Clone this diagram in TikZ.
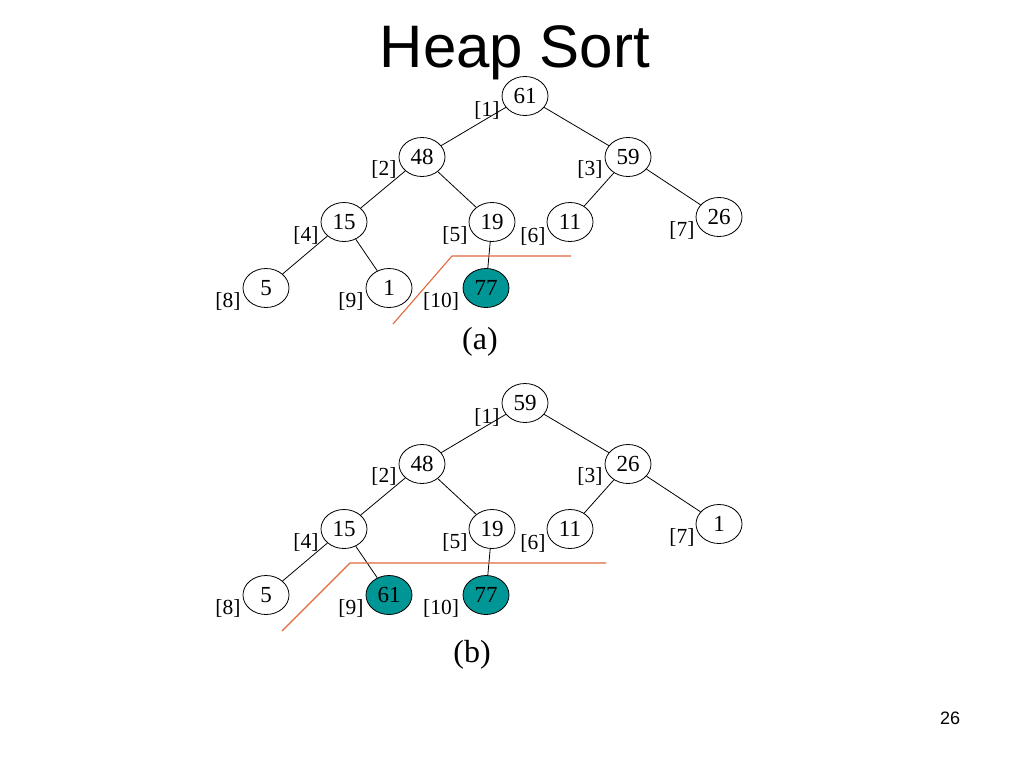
\documentclass[tikz,border=0pt]{standalone}
\usepackage{fontspec}
\setmainfont{Liberation Serif}
\newfontfamily\arialfont{Liberation Sans}
\usetikzlibrary{shapes.geometric}
\definecolor{tealfill}{RGB}{0,150,150}
\definecolor{cutline}{RGB}{226,104,60}
\tikzset{
  hnode/.style={ellipse, draw=black, line width=0.8pt, fill=white, minimum width=46pt, minimum height=39pt, inner sep=0pt, font=\fontsize{23}{25}\selectfont},
  donenode/.style={hnode, fill=tealfill},
  idxlabel/.style={anchor=base, inner sep=0pt, font=\fontsize{21.5}{24}\selectfont},
  treeline/.style={draw=black, line width=0.8pt},
  cutmark/.style={draw=cutline, line width=1.1pt},
  captext/.style={inner sep=0pt, font=\fontsize{32}{36}\selectfont}
}
\begin{document}
\begin{tikzpicture}[x=1pt,y=-1pt]
\useasboundingbox (0,0) rectangle (1024,768);
\node[anchor=base, inner sep=0pt, font=\arialfont\fontsize{60}{66}\selectfont] (title) at (515,67) {Heap Sort};
\node[anchor=center, inner sep=0pt, font=\arialfont\fontsize{18}{20}\selectfont] (pagenum) at (950,718) {26};

% ---------- tree (a) ----------
\node[hnode] (a1) at (525,96) {61};
\node[hnode] (a2) at (422,157) {48};
\node[hnode] (a3) at (628,157) {59};
\node[hnode] (a4) at (344,222) {15};
\node[hnode] (a5) at (492,222) {19};
\node[hnode] (a6) at (570,222) {11};
\node[hnode] (a7) at (719,217) {26};
\node[hnode] (a8) at (266,288) {5};
\node[hnode] (a9) at (389,288) {1};
\node[donenode] (a10) at (486,288) {77};
\draw[treeline] (a1) -- (a2);
\draw[treeline] (a1) -- (a3);
\draw[treeline] (a2) -- (a4);
\draw[treeline] (a2) -- (a5);
\draw[treeline] (a3) -- (a6);
\draw[treeline] (a3) -- (a7);
\draw[treeline] (a4) -- (a8);
\draw[treeline] (a4) -- (a9);
\draw[treeline] (a5) -- (a10);
\node[idxlabel] (ai1) at (487,116) {[1]};
\node[idxlabel] (ai2) at (384,175) {[2]};
\node[idxlabel] (ai3) at (590,175.5) {[3]};
\node[idxlabel] (ai4) at (306,241.5) {[4]};
\node[idxlabel] (ai5) at (455,241.5) {[5]};
\node[idxlabel] (ai6) at (533,242) {[6]};
\node[idxlabel] (ai7) at (682,236.5) {[7]};
\node[idxlabel] (ai8) at (228,307.5) {[8]};
\node[idxlabel] (ai9) at (351,307.5) {[9]};
\node[idxlabel] (ai10) at (441,307.5) {[10]};
\coordinate (ca1) at (393,324);
\coordinate (ca2) at (452,256);
\coordinate (ca3) at (571,256);
\draw[cutmark] (ca1) -- (ca2) -- (ca3);
\node[captext] (capa) at (480,342) {(a)};

% ---------- tree (b) ----------
\node[hnode] (b1) at (525,403) {59};
\node[hnode] (b2) at (422,464) {48};
\node[hnode] (b3) at (628,464) {26};
\node[hnode] (b4) at (344,529) {15};
\node[hnode] (b5) at (492,529) {19};
\node[hnode] (b6) at (570,529) {11};
\node[hnode] (b7) at (719,524) {1};
\node[hnode] (b8) at (266,595) {5};
\node[donenode] (b9) at (389,595) {61};
\node[donenode] (b10) at (486,595) {77};
\draw[treeline] (b1) -- (b2);
\draw[treeline] (b1) -- (b3);
\draw[treeline] (b2) -- (b4);
\draw[treeline] (b2) -- (b5);
\draw[treeline] (b3) -- (b6);
\draw[treeline] (b3) -- (b7);
\draw[treeline] (b4) -- (b8);
\draw[treeline] (b4) -- (b9);
\draw[treeline] (b5) -- (b10);
\node[idxlabel] (bi1) at (487,423) {[1]};
\node[idxlabel] (bi2) at (384,482) {[2]};
\node[idxlabel] (bi3) at (590,482.5) {[3]};
\node[idxlabel] (bi4) at (306,548.5) {[4]};
\node[idxlabel] (bi5) at (455,548.5) {[5]};
\node[idxlabel] (bi6) at (533,549) {[6]};
\node[idxlabel] (bi7) at (682,543.5) {[7]};
\node[idxlabel] (bi8) at (228,614.5) {[8]};
\node[idxlabel] (bi9) at (351,614.5) {[9]};
\node[idxlabel] (bi10) at (441,614.5) {[10]};
\coordinate (cb1) at (282,631);
\coordinate (cb2) at (350,563);
\coordinate (cb3) at (606,563);
\draw[cutmark] (cb1) -- (cb2) -- (cb3);
\node[captext] (capb) at (472,655) {(b)};
\end{tikzpicture}
\end{document}
